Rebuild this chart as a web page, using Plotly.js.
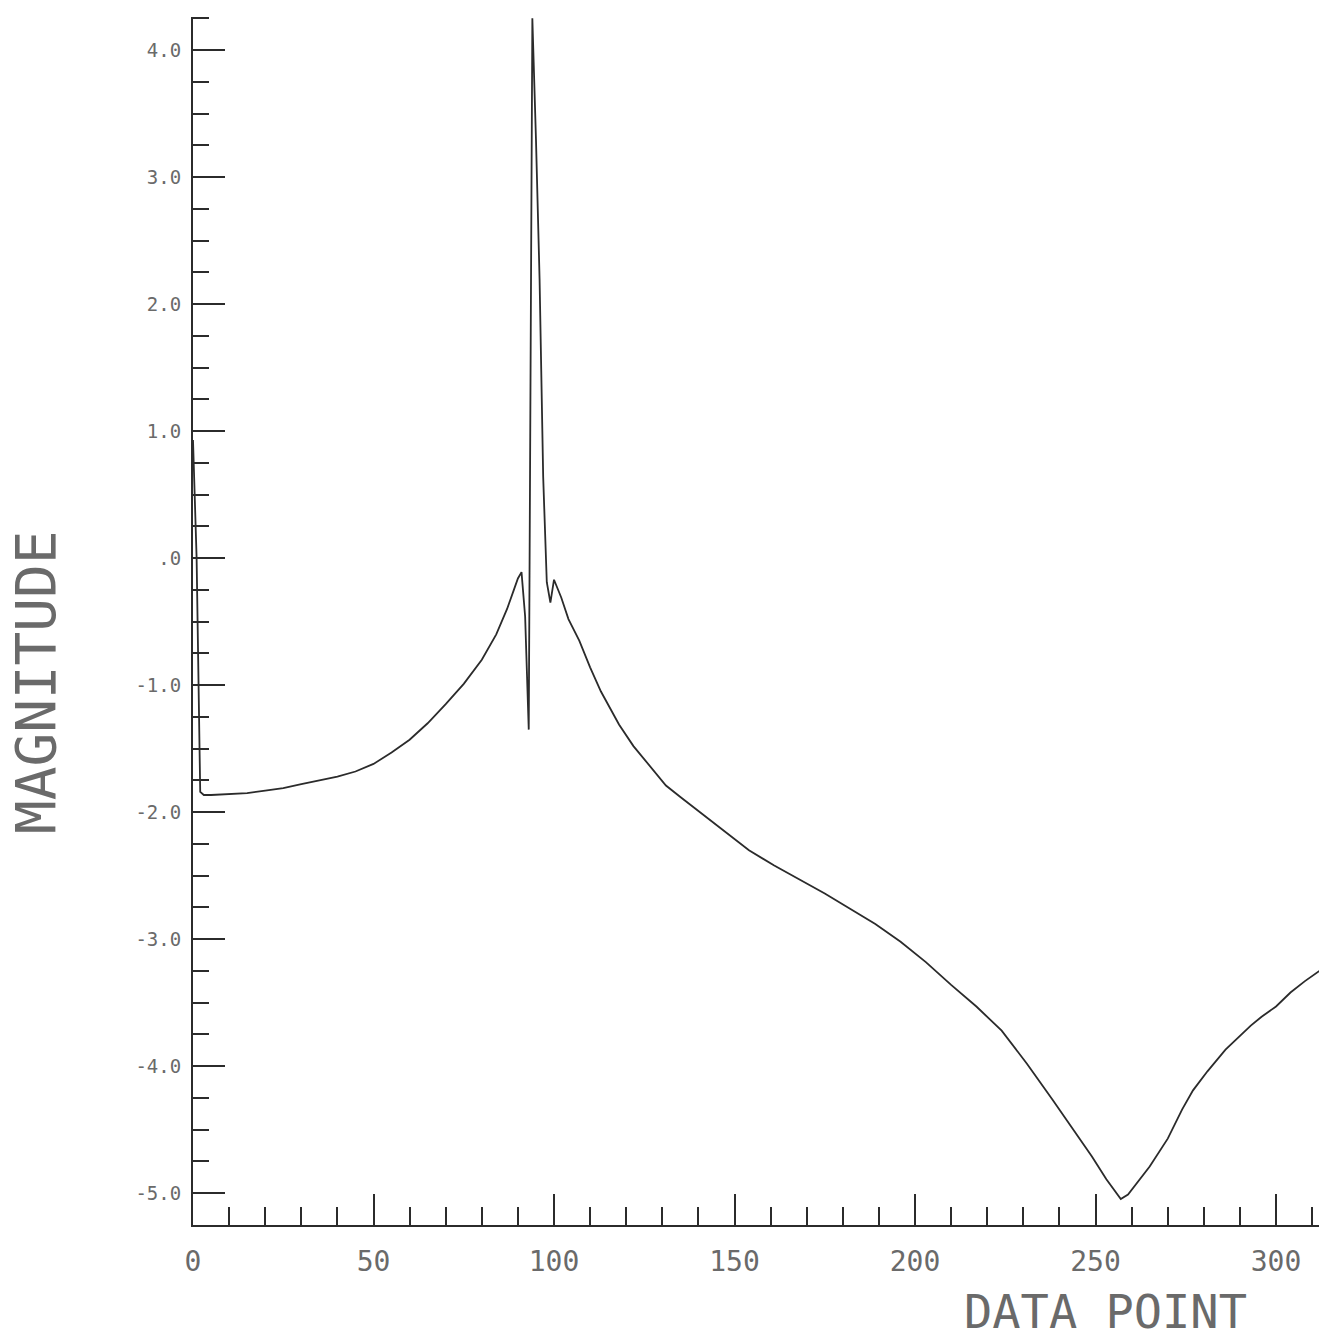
<!DOCTYPE html>
<html>
<head>
<meta charset="utf-8">
<script src="https://cdn.plot.ly/plotly-3.0.1.min.js"></script>
<style>
  html, body { margin: 0; padding: 0; background: #ffffff; }
  #chart { width: 1319px; height: 1342px; }
</style>
</head>
<body>
<div id="chart"></div>
<script>
// Values
const dataPoint = [0, 1, 2, 3, 5, 10, 15, 20, 25, 30, 35, 40, 45, 50, 55, 60, 65, 70, 75, 80, 84, 87, 89, 90, 91, 92, 93, 94, 95, 96, 97, 98, 99, 100,
  102, 104, 107, 110, 113, 118, 122, 127, 131, 135, 140, 147, 154, 161, 168, 175, 182, 189, 196, 203, 210, 217, 224, 231, 238,
  245, 249, 253, 256, 257, 259, 262, 265, 270, 274, 277, 281, 286, 290, 293, 296, 300, 304, 308, 312];
const magnitude = [0.93, 0.0, -1.84, -1.865, -1.865, -1.86, -1.85, -1.83, -1.81, -1.78, -1.75, -1.72, -1.68, -1.62, -1.53, -1.43, -1.30, -1.15, -0.99, -0.80, -0.60, -0.40, -0.24, -0.16, -0.11, -0.46, -1.35, 4.25, 3.30, 2.20, 0.64, -0.19, -0.35, -0.17,
  -0.31, -0.48, -0.65, -0.86, -1.05, -1.31, -1.48, -1.65, -1.79, -1.88, -1.99, -2.15, -2.30, -2.42, -2.53, -2.64, -2.76, -2.88, -3.02, -3.18, -3.36, -3.53, -3.72, -3.98, -4.26,
  -4.54, -4.71, -4.89, -5.01, -5.045, -5.01, -4.90, -4.79, -4.57, -4.34, -4.19, -4.04, -3.87, -3.76, -3.68, -3.61, -3.53, -3.42, -3.33, -3.25];

const xTickVals = [0, 50, 100, 150, 200, 250, 300];
const xTickText = ["0", "50", "100", "150", "200", "250", "300"];
const yTickVals = [-5, -4, -3, -2, -1, 0, 1, 2, 3, 4];
const yTickText = ["-5.0", "-4.0", "-3.0", "-2.0", "-1.0", ".0", "1.0", "2.0", "3.0", "4.0"];
const xTitle = "DATA POINT";
const yTitle = "MAGNITUDE";

const inkColor = "#2b2b2b";
const textColor = "#6a6a6a";
const mono = "DejaVu Sans Mono, Liberation Mono, monospace";

const plotLeft = 193, plotTop = 17, plotBottom = 1225, plotRight = 1319;
const plotW = plotRight - plotLeft, plotH = plotBottom - plotTop;

const trace = {
  x: dataPoint,
  y: magnitude,
  type: "scatter",
  mode: "lines",
  line: { color: inkColor, width: 1.8 },
  hoverinfo: "skip",
  cliponaxis: true
};

const layout = {
  width: 1319,
  height: 1342,
  margin: { l: plotLeft, r: 1319 - plotRight, t: plotTop, b: 1342 - plotBottom },
  paper_bgcolor: "#ffffff",
  plot_bgcolor: "#ffffff",
  showlegend: false,
  xaxis: {
    range: [0, 311.9],
    showgrid: false,
    zeroline: false,
    showline: true,
    linecolor: inkColor,
    linewidth: 2,
    ticks: "inside",
    ticklen: 31,
    tickwidth: 2,
    tickcolor: inkColor,
    tickvals: xTickVals,
    ticktext: xTickText,
    ticklabelstandoff: 10,
    tickfont: { family: mono, size: 28, color: textColor },
    minor: { dtick: 10, tick0: 0, ticks: "inside", ticklen: 18, tickwidth: 2, tickcolor: inkColor, showgrid: false },
    fixedrange: true
  },
  yaxis: {
    range: [-5.25, 4.26],
    showgrid: false,
    zeroline: false,
    showline: true,
    linecolor: inkColor,
    linewidth: 2,
    ticks: "inside",
    ticklen: 32,
    tickwidth: 2,
    tickcolor: inkColor,
    tickvals: yTickVals,
    ticktext: yTickText,
    ticklabelstandoff: 6,
    tickfont: { family: mono, size: 19, color: textColor },
    minor: { dtick: 0.25, tick0: 0, ticks: "inside", ticklen: 16, tickwidth: 2, tickcolor: inkColor, showgrid: false },
    fixedrange: true
  },
  annotations: [
    {
      text: xTitle,
      xref: "paper", yref: "paper",
      x: (1105 - plotLeft) / plotW, y: (plotBottom - 1311) / plotH,
      xanchor: "center", yanchor: "middle",
      showarrow: false,
      font: { family: mono, size: 47, color: textColor }
    },
    {
      text: yTitle,
      xref: "paper", yref: "paper",
      x: (35 - plotLeft) / plotW, y: (plotBottom - 683) / plotH,
      xanchor: "center", yanchor: "middle",
      textangle: -90,
      showarrow: false,
      font: { family: mono, size: 56, color: textColor }
    }
  ]
};

Plotly.newPlot("chart", [trace], layout, { displayModeBar: false, staticPlot: true });
</script>
</body>
</html>
